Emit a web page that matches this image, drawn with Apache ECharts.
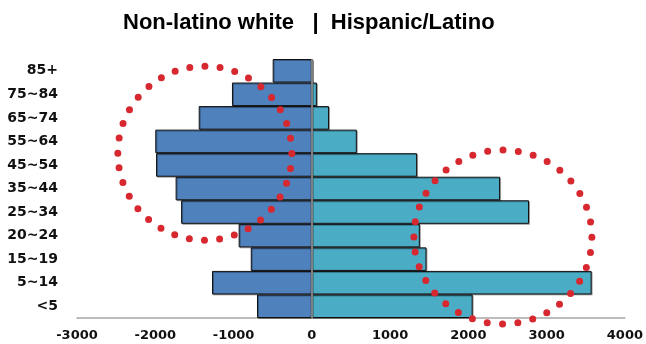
<!DOCTYPE html>
<html>
<head>
<meta charset="utf-8">
<script src="https://cdn.jsdelivr.net/npm/echarts@6/dist/echarts.min.js"></script>
<style>
  html, body { margin: 0; padding: 0; background: #fff; }
  #main { width: 646px; height: 344px; }
</style>
</head>
<body>
<div id="main"></div>
<script>
// age groups, bottom to top
var categories = ['<5', '5~14', '15~19', '20~24', '25~34', '35~44', '45~54', '55~64', '65~74', '75~84', '85+'];
// left side is drawn as negative numbers
var nonLatinoWhite = [-700, -1275, -780, -935, -1670, -1740, -1990, -2000, -1445, -1020, -500];
var hispanicLatino = [2055, 3575, 1465, 1380, 2775, 2405, 1345, 575, 220, 65, 15];
var xTicks = { min: -3000, max: 4000, step: 1000 };

var myChart = echarts.init(document.getElementById('main'));

var barLabelFont = { color: '#111', fontFamily: 'DejaVu Sans', fontWeight: 'bold' };

var option = {
    animation: false,
    title: {
        text: 'Non-latino white   |  Hispanic/Latino',
        left: 123,
        top: 12,
        padding: 0,
        textStyle: {
            color: '#000',
            fontFamily: "'Liberation Sans', Arial, sans-serif",
            fontWeight: 'bold',
            fontSize: 22
        }
    },
    grid: {
        left: 77,
        right: 21,
        top: 59,
        bottom: 26,
        containLabel: false
    },
    xAxis: {
        type: 'value',
        min: xTicks.min,
        max: xTicks.max,
        interval: xTicks.step,
        axisLine: { show: true, onZero: false, lineStyle: { color: '#a6a6a6', width: 1.5 } },
        axisTick: { show: false },
        splitLine: { show: false },
        axisLabel: {
            margin: 11,
            fontSize: 13,
            color: barLabelFont.color,
            fontFamily: barLabelFont.fontFamily,
            fontWeight: barLabelFont.fontWeight,
            formatter: function (v) { return String(v); }
        }
    },
    yAxis: {
        type: 'category',
        data: categories,
        axisLine: { show: false },
        axisTick: { show: false },
        splitLine: { show: false },
        axisLabel: {
            margin: 19,
            fontSize: 14,
            color: barLabelFont.color,
            fontFamily: barLabelFont.fontFamily,
            fontWeight: barLabelFont.fontWeight
        }
    },
    series: [
        {
            name: 'Non-latino white',
            type: 'bar',
            stack: 'pop',
            barCategoryGap: '0%',
            itemStyle: {
                color: '#4f81bd', borderColor: '#111', borderWidth: 1,
                shadowColor: 'rgba(0,0,0,0.3)', shadowOffsetX: 1, shadowOffsetY: 1
            },
            data: nonLatinoWhite
        },
        {
            name: 'Hispanic/Latino',
            type: 'bar',
            stack: 'pop',
            barCategoryGap: '0%',
            itemStyle: {
                color: '#4bacc6', borderColor: '#111', borderWidth: 1,
                shadowColor: 'rgba(0,0,0,0.3)', shadowOffsetX: 1, shadowOffsetY: 1
            },
            markLine: {
                silent: true,
                symbol: 'none',
                label: { show: false },
                lineStyle: { color: '#7f7f7f', width: 2, type: 'solid' },
                data: [{ xAxis: 0 }]
            },
            data: hispanicLatino
        }
    ]
};

myChart.setOption(option);

// red dotted rings, anchored in data space
function dottedRing(center, rx, ry, dots) {
    var per = Math.PI * (3 * (rx + ry) - Math.sqrt((3 * rx + ry) * (rx + 3 * ry))) / dots;
    return {
        type: 'ellipse',
        silent: true,
        z: 100,
        shape: { cx: center[0], cy: center[1], rx: rx, ry: ry },
        style: {
            fill: null,
            stroke: '#d7282f',
            lineWidth: 7,
            lineCap: 'round',
            lineDash: [0, per]
        }
    };
}

var leftA = myChart.convertToPixel({ gridIndex: 0 }, [-1367, '45~54']);
var leftB = myChart.convertToPixel({ gridIndex: 0 }, [-1367, '55~64']);
var rightC = myChart.convertToPixel({ gridIndex: 0 }, [2441, '20~24']);

myChart.setOption({
    graphic: [
        dottedRing([leftA[0], (leftA[1] + leftB[1]) / 2], 87, 87, 36),
        dottedRing([rightC[0], rightC[1] + 1.5], 89, 87, 36)
    ]
});
</script>
</body>
</html>
